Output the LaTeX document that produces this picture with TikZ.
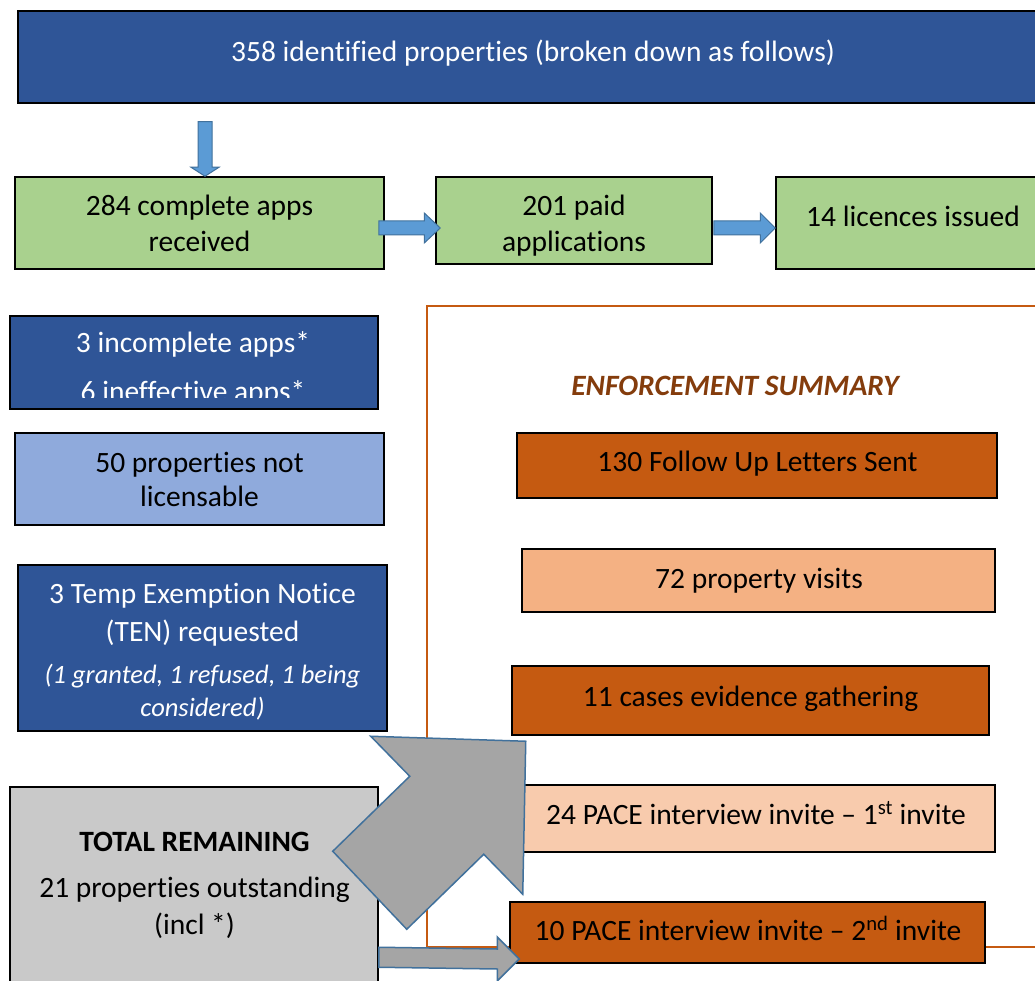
\documentclass[tikz,border=0pt]{standalone}
\usepackage{fontspec}
\setmainfont[Ligatures={TeX,NoCommon}]{Carlito}
\usetikzlibrary{calc}
\definecolor{dblue}{HTML}{2F5597}
\definecolor{lgreen}{HTML}{A9D18E}
\definecolor{lblue}{HTML}{8FAADC}
\definecolor{ablue}{HTML}{5B9BD5}
\definecolor{aedge}{HTML}{41719C}
\definecolor{gbox}{HTML}{C9C9C9}
\definecolor{agray}{HTML}{A5A5A5}
\definecolor{odark}{HTML}{C55A11}
\definecolor{omid}{HTML}{F4B183}
\definecolor{olight}{HTML}{F8CBAD}
\definecolor{otitle}{HTML}{843C0C}
\begin{document}
\begin{tikzpicture}[x=1pt,y=-1pt,
  box/.style={draw=black, line width=1.5pt, inner sep=0pt},
  txt/.style={inner sep=0pt, anchor=base, font=\fontsize{29.5}{35}\selectfont},
  itxt/.style={inner sep=0pt, anchor=base, font=\fontsize{26.5}{32}\selectfont\itshape},
  barrow/.style={fill=ablue, draw=aedge, line width=1pt, line join=miter},
  garrow/.style={fill=agray, draw=aedge, line width=1.5pt, line join=miter}]
\useasboundingbox (0,0) rectangle (1035,981);
\clip (0,0) rectangle (1035,981);
\fill[white] (0,0) rectangle (1035,981);

% enforcement frame
\draw[odark, line width=1.5pt] (427,306) rectangle (1060,947);
\node[txt, text=otitle, font=\fontsize{29.5}{35}\selectfont\bfseries\itshape] (title) at (735,395) {ENFORCEMENT SUMMARY};

% top box
\node[box, fill=dblue, minimum width=1030pt, minimum height=92pt] (top) at (533,57) {};
\node[txt, text=white] (topt) at (533,62) {358 identified properties (broken down as follows)};

% green row
\node[box, fill=lgreen, minimum width=369pt, minimum height=92pt] (g1) at (199.5,223) {};
\node[txt] (g1a) at (199.5,216) {284 complete apps};
\node[txt] (g1b) at (199.5,252) {received};
\node[box, fill=lgreen, minimum width=276pt, minimum height=87pt] (g2) at (574,220.5) {};
\node[txt] (g2a) at (574,216) {201 paid};
\node[txt] (g2b) at (574,252) {applications};
\node[box, fill=lgreen, minimum width=274pt, minimum height=92pt] (g3) at (913,223) {};
\node[txt] (g3a) at (913,227) {14 licences issued};

% down arrow
\coordinate (d1s) at ($(top.south)+(-328,18)$);
\coordinate (d1t) at ($(g1.north)+(5.5,0)$);
\draw[barrow] ($(d1s)+(-7,0)$) -- ($(d1t)+(-7,-9)$) -- ($(d1t)+(-14,-9)$) -- (d1t) -- ($(d1t)+(14,-9)$) -- ($(d1t)+(7,-9)$) -- ($(d1s)+(7,0)$) -- cycle;

% right arrows
\coordinate (a1s) at ($(g1.east)+(-6,5)$);
\coordinate (a1t) at ($(g2.west)+(5,7.5)$);
\draw[barrow] ($(a1s)+(0,-7)$) -- ($(a1t)+(-16,-7)$) -- ($(a1t)+(-16,-15)$) -- (a1t) -- ($(a1t)+(-16,15)$) -- ($(a1t)+(-16,7)$) -- ($(a1s)+(0,7)$) -- cycle;
\coordinate (a2s) at ($(g2.east)+(1,7.5)$);
\coordinate (a2t) at ($(g3.west)+(0,5)$);
\draw[barrow] ($(a2s)+(0,-7)$) -- ($(a2t)+(-15,-7)$) -- ($(a2t)+(-15,-15)$) -- (a2t) -- ($(a2t)+(-15,15)$) -- ($(a2t)+(-15,7)$) -- ($(a2s)+(0,7)$) -- cycle;

% left column
\node[box, fill=dblue, minimum width=368pt, minimum height=93pt] (b1) at (194,362.5) {};
\begin{scope}
  \clip (11,317) rectangle (377,397);
  \node[txt, text=white] (b1a) at (193,352) {3 incomplete apps*};
  \node[txt, text=white] (b1b) at (193,401) {6 ineffective apps*};
\end{scope}
\node[box, fill=lblue, minimum width=369pt, minimum height=92pt] (lb) at (199.5,479) {};
\node[txt] (lba) at (199.5,472) {50 properties not};
\node[txt] (lbb) at (199.5,506) {licensable};
\node[box, fill=dblue, minimum width=369pt, minimum height=166pt] (b2) at (202.5,648) {};
\node[txt, text=white] (b2a) at (202.5,603) {3 Temp Exemption Notice};
\node[txt, text=white] (b2b) at (202.5,641) {(TEN) requested};
\node[itxt, text=white] (b2c) at (202.5,683) {(1 granted, 1 refused, 1 being};
\node[itxt, text=white] (b2d) at (202.5,716) {considered)};
\node[box, fill=gbox, minimum width=368pt, minimum height=213pt] (gray) at (194,893.5) {};
\node[txt, font=\fontsize{29.5}{35}\selectfont\bfseries] (g4a) at (194.5,851) {TOTAL REMAINING};
\node[txt] (g4b) at (194.5,897) {21 properties outstanding};
\node[txt] (g4c) at (194.5,934) {(incl *)};

% enforcement boxes
\node[box, fill=odark, minimum width=480pt, minimum height=65pt] (o1) at (757,465.5) {};
\node[txt] (o1t) at (757.5,471) {130 Follow Up Letters Sent};
\node[box, fill=omid, minimum width=473pt, minimum height=63pt] (o2) at (758.5,580.5) {};
\node[txt] (o2t) at (759,588) {72 property visits};
\node[box, fill=odark, minimum width=477pt, minimum height=69pt] (o3) at (750.5,700.5) {};
\node[txt] (o3t) at (750.5,706) {11 cases evidence gathering};
\node[box, fill=olight, minimum width=475pt, minimum height=67pt] (o4) at (757.5,818.5) {};
\node[txt] (o4t) at (756,824) {24 PACE interview invite – 1\textsuperscript{st} invite};
\node[box, fill=odark, minimum width=475pt, minimum height=61pt] (o5) at (747.5,932.5) {};
\node[txt] (o5t) at (748,940) {10 PACE interview invite – 2\textsuperscript{nd} invite};

% big gray arrow
\coordinate (ga) at (gray.north east);
\draw[garrow] ($(ga)+(-8,-50)$) -- ($(ga)+(147,-45)$) -- ($(ga)+(144,108)$) -- ($(ga)+(105,68)$) -- ($(ga)+(28,143)$) -- ($(ga)+(-46,65)$) -- ($(ga)+(31,-10)$) -- cycle;

% small gray arrow
\coordinate (s1s) at ($(gray.north east)+(0,171)$);
\coordinate (s1t) at ($(o5.west)+(10,26.5)$);
\draw[garrow] ($(s1s)+(0,-10)$) -- ($(s1t)+(-22,-10)$) -- ($(s1t)+(-22,-22)$) -- (s1t) -- ($(s1t)+(-22,22)$) -- ($(s1t)+(-22,10)$) -- ($(s1s)+(0,10)$) -- cycle;
\end{tikzpicture}
\end{document}
